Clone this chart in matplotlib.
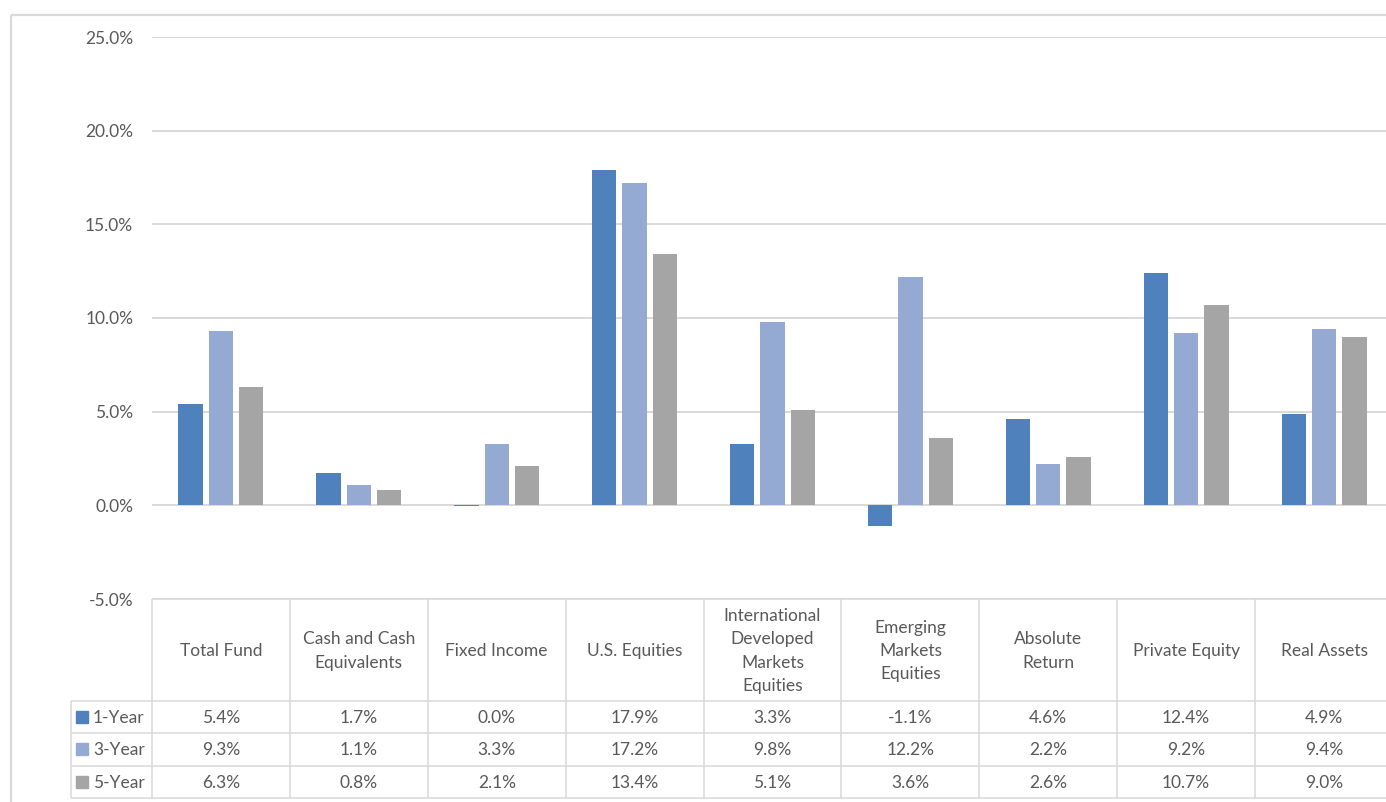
#!/usr/bin/env python3

import numpy as np
import matplotlib.pyplot as plt
from matplotlib.lines import Line2D
from matplotlib.patches import Rectangle
from matplotlib.ticker import FuncFormatter

# asset class returns (%), annualised over 1, 3 and 5 years
categories = ["Total Fund", "Cash and Cash\nEquivalents", "Fixed Income", "U.S. Equities",
              "International\nDeveloped\nMarkets\nEquities", "Emerging\nMarkets\nEquities",
              "Absolute\nReturn", "Private Equity", "Real Assets"]
series_names = ["1-Year", "3-Year", "5-Year"]
one_year   = [5.4, 1.7, -0.049, 17.9, 3.3, -1.1, 4.6, 12.4, 4.9]
three_year = [9.3, 1.1, 3.3, 17.2, 9.8, 12.2, 2.2, 9.2, 9.4]
five_year  = [6.3, 0.8, 2.1, 13.4, 5.1, 3.6, 2.6, 10.7, 9.0]
y_ticks = [-5, 0, 5, 10, 15, 20, 25]

colors = ["#4F81BD", "#95AAD3", "#A5A5A5"]
grid_color = "#D9D9D9"
text_color = "#595959"

plt.rcParams['font.family'] = ['Lato', 'DejaVu Sans']
fs = 12.5

W, H = 1386, 802
fig = plt.figure(figsize=(W / 100, H / 100), dpi=100)

def fx(px):
   return px / W

def fy(py):
   return 1 - py / H

# bar area
ax = fig.add_axes([fx(152), fy(599), fx(1393) - fx(152), fy(37) - fy(599)])
ax.set_xlim(-0.5, len(categories) - 0.5)
ax.set_ylim(-5, 25)
ax.set_yticks(y_ticks)
ax.yaxis.set_major_formatter(FuncFormatter(lambda v, p: "%.1f%%" % v))
ax.tick_params(axis='y', length=0, pad=13.5, labelsize=fs, labelcolor=text_color)
ax.set_xticks([])
for s in ax.spines.values():
   s.set_visible(False)
ax.grid(axis='y', color=grid_color, linewidth=1.4)
ax.set_axisbelow(True)

x = np.arange(len(categories))
width = 0.176
offset = 0.22
all_series = [one_year, three_year, five_year]
for k, vals in enumerate(all_series):
   ax.bar(x + (k - 1) * offset, vals, width, color=colors[k], zorder=3)

# data table drawn in pixel space underneath the bars
tab = fig.add_axes([0, 0, 1, 1], zorder=-1)
tab.set_xlim(0, W)
tab.set_ylim(H, 0)
tab.axis('off')

def line(x0, y0, x1, y1, lw=1.1):
   tab.add_line(Line2D([x0, x1], [y0, y1], color=grid_color, linewidth=lw, solid_capstyle='butt'))

# outer chart frame
line(11, 15, W + 5, 15, lw=1.6)
line(11, 15, 11, H + 5, lw=1.6)

col_edges = []
for i in range(len(categories) + 1):
   px = ax.transData.transform((i - 0.5, 0))[0]
   col_edges.append(px)
row_edges = [599, 701, 733, 765.5, 798]
legend_left = 70.7

for cx in col_edges:
   line(cx, row_edges[0], cx, row_edges[-1])
line(col_edges[0], row_edges[0], W + 5, row_edges[0])
for ry in row_edges[1:]:
   line(legend_left, ry, W + 5, ry)
line(legend_left, row_edges[1], legend_left, row_edges[-1])

def fmt(v):
   s = "%.1f%%" % v
   return "0.0%" if s == "-0.0%" else s

head_mid = (row_edges[0] + row_edges[1]) / 2
for i, name in enumerate(categories):
   cx = (col_edges[i] + col_edges[i + 1]) / 2
   tab.text(cx, head_mid + 1, name, ha='center', va='center', multialignment='center',
            fontsize=fs, color=text_color, linespacing=1.55)
   for k, vals in enumerate(all_series):
      ry = (row_edges[k + 1] + row_edges[k + 2]) / 2
      tab.text(cx, ry + 1, fmt(vals[i]), ha='center', va='center',
               fontsize=fs, color=text_color)

for k, name in enumerate(series_names):
   ry = (row_edges[k + 1] + row_edges[k + 2]) / 2
   tab.add_patch(Rectangle((76, ry - 6), 12, 12, color=colors[k]))
   tab.text(93, ry + 1, name, ha='left', va='center', fontsize=fs, color=text_color)

fig.savefig("out.png", dpi=100, facecolor='w')
